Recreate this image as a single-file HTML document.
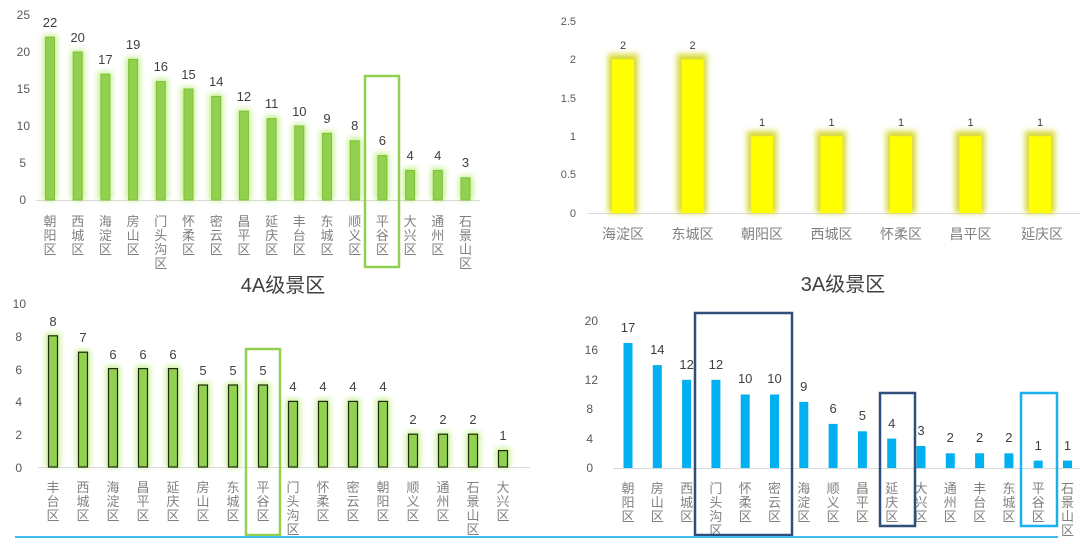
<!DOCTYPE html>
<html><head><meta charset="utf-8"><style>
body{margin:0;background:#fff}
svg{display:block;font-family:"Liberation Sans","Noto Sans CJK SC",sans-serif}
.t{font-size:12px;fill:#595959;text-anchor:end}
.v{font-size:13px;fill:#404040;text-anchor:middle}
.c{font-size:13px;fill:#808080;text-anchor:middle}
.ti{font-size:20px;fill:#404040;text-anchor:middle}
</style></head><body>
<svg width="1080" height="544" viewBox="0 0 1080 544">
<defs>
<filter id="gg" x="-100%" y="-20%" width="300%" height="140%"><feGaussianBlur stdDeviation="3"/></filter>
</defs>
<!-- Chart 1 -->
<g class="t"><text x="30" y="19">25</text><text x="30" y="56">20</text><text x="30" y="93">15</text><text x="30" y="130">10</text><text x="26" y="167">5</text><text x="26" y="204">0</text></g>
<line x1="36" y1="200.5" x2="480" y2="200.5" stroke="#d9d9d9"/>
<g fill="#c6ef8c" filter="url(#gg)">
<rect x="43" y="35" width="14" height="165"/><rect x="71" y="50" width="14" height="150"/><rect x="98" y="72" width="14" height="128"/><rect x="126" y="57" width="14" height="143"/><rect x="154" y="79" width="14" height="121"/><rect x="181" y="87" width="14" height="113"/><rect x="209" y="94" width="14" height="106"/><rect x="237" y="109" width="14" height="91"/><rect x="265" y="116" width="14" height="84"/><rect x="292" y="124" width="14" height="76"/><rect x="320" y="131" width="14" height="69"/><rect x="348" y="138" width="14" height="62"/><rect x="375" y="153" width="14" height="47"/><rect x="403" y="168" width="14" height="32"/><rect x="431" y="168" width="14" height="32"/><rect x="459" y="176" width="14" height="24"/>
</g>
<g fill="#92d050" stroke="#7fbf3a" stroke-width="1">
<rect x="45.5" y="37.2" width="9" height="162.8"/><rect x="73.2" y="52" width="9" height="148"/><rect x="100.9" y="74.2" width="9" height="125.8"/><rect x="128.6" y="59.4" width="9" height="140.6"/><rect x="156.3" y="81.6" width="9" height="118.4"/><rect x="184" y="89" width="9" height="111"/><rect x="211.7" y="96.4" width="9" height="103.6"/><rect x="239.4" y="111.2" width="9" height="88.8"/><rect x="267.1" y="118.6" width="9" height="81.4"/><rect x="294.8" y="126" width="9" height="74"/><rect x="322.5" y="133.4" width="9" height="66.6"/><rect x="350.2" y="140.8" width="9" height="59.2"/><rect x="377.9" y="155.6" width="9" height="44.4"/><rect x="405.6" y="170.4" width="9" height="29.6"/><rect x="433.3" y="170.4" width="9" height="29.6"/><rect x="461" y="177.8" width="9" height="22.2"/>
</g>
<g class="v">
<text x="50" y="27">22</text><text x="77.7" y="42">20</text><text x="105.4" y="64">17</text><text x="133.1" y="49">19</text><text x="160.8" y="71">16</text><text x="188.5" y="79">15</text><text x="216.2" y="86">14</text><text x="243.9" y="101">12</text><text x="271.6" y="108">11</text><text x="299.3" y="116">10</text><text x="327" y="123">9</text><text x="354.7" y="130">8</text><text x="382.4" y="145">6</text><text x="410.1" y="160">4</text><text x="437.8" y="160">4</text><text x="465.5" y="167">3</text>
</g>
<g class="c">
<text x="50" y="226"><tspan x="50">朝</tspan><tspan x="50" dy="14">阳</tspan><tspan x="50" dy="14">区</tspan></text>
<text x="77.7" y="226"><tspan x="77.7">西</tspan><tspan x="77.7" dy="14">城</tspan><tspan x="77.7" dy="14">区</tspan></text>
<text x="105.4" y="226"><tspan x="105.4">海</tspan><tspan x="105.4" dy="14">淀</tspan><tspan x="105.4" dy="14">区</tspan></text>
<text x="133.1" y="226"><tspan x="133.1">房</tspan><tspan x="133.1" dy="14">山</tspan><tspan x="133.1" dy="14">区</tspan></text>
<text x="160.8" y="226"><tspan x="160.8">门</tspan><tspan x="160.8" dy="14">头</tspan><tspan x="160.8" dy="14">沟</tspan><tspan x="160.8" dy="14">区</tspan></text>
<text x="188.5" y="226"><tspan x="188.5">怀</tspan><tspan x="188.5" dy="14">柔</tspan><tspan x="188.5" dy="14">区</tspan></text>
<text x="216.2" y="226"><tspan x="216.2">密</tspan><tspan x="216.2" dy="14">云</tspan><tspan x="216.2" dy="14">区</tspan></text>
<text x="243.9" y="226"><tspan x="243.9">昌</tspan><tspan x="243.9" dy="14">平</tspan><tspan x="243.9" dy="14">区</tspan></text>
<text x="271.6" y="226"><tspan x="271.6">延</tspan><tspan x="271.6" dy="14">庆</tspan><tspan x="271.6" dy="14">区</tspan></text>
<text x="299.3" y="226"><tspan x="299.3">丰</tspan><tspan x="299.3" dy="14">台</tspan><tspan x="299.3" dy="14">区</tspan></text>
<text x="327" y="226"><tspan x="327">东</tspan><tspan x="327" dy="14">城</tspan><tspan x="327" dy="14">区</tspan></text>
<text x="354.7" y="226"><tspan x="354.7">顺</tspan><tspan x="354.7" dy="14">义</tspan><tspan x="354.7" dy="14">区</tspan></text>
<text x="382.4" y="226"><tspan x="382.4">平</tspan><tspan x="382.4" dy="14">谷</tspan><tspan x="382.4" dy="14">区</tspan></text>
<text x="410.1" y="226"><tspan x="410.1">大</tspan><tspan x="410.1" dy="14">兴</tspan><tspan x="410.1" dy="14">区</tspan></text>
<text x="437.8" y="226"><tspan x="437.8">通</tspan><tspan x="437.8" dy="14">州</tspan><tspan x="437.8" dy="14">区</tspan></text>
<text x="465.5" y="226"><tspan x="465.5">石</tspan><tspan x="465.5" dy="14">景</tspan><tspan x="465.5" dy="14">山</tspan><tspan x="465.5" dy="14">区</tspan></text>
</g>
<rect x="365" y="76" width="34" height="191" fill="none" stroke="#92d050" stroke-width="2.5"/>
<text class="ti" x="283" y="292">4A级景区</text>

<!-- Chart 2 -->
<g class="t" style="font-size:11px"><text x="576" y="25">2.5</text><text x="576" y="63">2</text><text x="576" y="102">1.5</text><text x="576" y="140">1</text><text x="576" y="178">0.5</text><text x="576" y="217">0</text></g>
<line x1="588" y1="213.5" x2="1080" y2="213.5" stroke="#d9d9d9"/>
<g fill="#d8d838" filter="url(#gg)">
<rect x="608" y="54" width="30" height="159"/><rect x="677" y="54" width="30" height="159"/><rect x="747" y="131" width="30" height="82"/><rect x="816" y="131" width="30" height="82"/><rect x="886" y="131" width="30" height="82"/><rect x="955" y="131" width="30" height="82"/><rect x="1025" y="131" width="30" height="82"/>
</g>
<g fill="#ffff00">
<rect x="612" y="59.4" width="22" height="153.6"/><rect x="681.5" y="59.4" width="22" height="153.6"/><rect x="751" y="136.2" width="22" height="76.8"/><rect x="820.5" y="136.2" width="22" height="76.8"/><rect x="890" y="136.2" width="22" height="76.8"/><rect x="959.5" y="136.2" width="22" height="76.8"/><rect x="1029" y="136.2" width="22" height="76.8"/>
</g>
<g class="v" style="font-size:11px">
<text x="623" y="49">2</text><text x="692.5" y="49">2</text><text x="762" y="126">1</text><text x="831.5" y="126">1</text><text x="901" y="126">1</text><text x="970.5" y="126">1</text><text x="1040" y="126">1</text>
</g>
<g class="c" style="font-size:14px">
<text x="623" y="239">海淀区</text><text x="692.5" y="239">东城区</text><text x="762" y="239">朝阳区</text><text x="831.5" y="239">西城区</text><text x="901" y="239">怀柔区</text><text x="970.5" y="239">昌平区</text><text x="1042" y="239">延庆区</text>
</g>
<text class="ti" x="843" y="291">3A级景区</text>

<!-- Chart 3 -->
<g class="t"><text x="26" y="308">10</text><text x="22" y="341">8</text><text x="22" y="374">6</text><text x="22" y="406">4</text><text x="22" y="439">2</text><text x="22" y="472">0</text></g>
<line x1="38" y1="467.5" x2="530" y2="467.5" stroke="#d9d9d9"/>
<g fill="#c6ef8c" filter="url(#gg)">
<rect x="46" y="333" width="14" height="134"/><rect x="76" y="350" width="14" height="117"/><rect x="106" y="366" width="14" height="101"/><rect x="136" y="366" width="14" height="101"/><rect x="166" y="366" width="14" height="101"/><rect x="196" y="383" width="14" height="84"/><rect x="226" y="383" width="14" height="84"/><rect x="256" y="383" width="14" height="84"/><rect x="286" y="399" width="14" height="68"/><rect x="316" y="399" width="14" height="68"/><rect x="346" y="399" width="14" height="68"/><rect x="376" y="399" width="14" height="68"/><rect x="406" y="432" width="14" height="35"/><rect x="436" y="432" width="14" height="35"/><rect x="466" y="432" width="14" height="35"/><rect x="496" y="448" width="14" height="19"/>
</g>
<g fill="#92d050" stroke="#1e2a10" stroke-width="1.2">
<rect x="48.5" y="335.8" width="9" height="131.2"/><rect x="78.5" y="352.2" width="9" height="114.8"/><rect x="108.5" y="368.6" width="9" height="98.4"/><rect x="138.5" y="368.6" width="9" height="98.4"/><rect x="168.5" y="368.6" width="9" height="98.4"/><rect x="198.5" y="385" width="9" height="82"/><rect x="228.5" y="385" width="9" height="82"/><rect x="258.5" y="385" width="9" height="82"/><rect x="288.5" y="401.4" width="9" height="65.6"/><rect x="318.5" y="401.4" width="9" height="65.6"/><rect x="348.5" y="401.4" width="9" height="65.6"/><rect x="378.5" y="401.4" width="9" height="65.6"/><rect x="408.5" y="434.2" width="9" height="32.8"/><rect x="438.5" y="434.2" width="9" height="32.8"/><rect x="468.5" y="434.2" width="9" height="32.8"/><rect x="498.5" y="450.6" width="9" height="16.4"/>
</g>
<g class="v">
<text x="53" y="326">8</text><text x="83" y="342">7</text><text x="113" y="359">6</text><text x="143" y="359">6</text><text x="173" y="359">6</text><text x="203" y="375">5</text><text x="233" y="375">5</text><text x="263" y="375">5</text><text x="293" y="391">4</text><text x="323" y="391">4</text><text x="353" y="391">4</text><text x="383" y="391">4</text><text x="413" y="424">2</text><text x="443" y="424">2</text><text x="473" y="424">2</text><text x="503" y="440">1</text>
</g>
<g class="c">
<text y="492"><tspan x="53">丰</tspan><tspan x="53" dy="14">台</tspan><tspan x="53" dy="14">区</tspan></text>
<text y="492"><tspan x="83">西</tspan><tspan x="83" dy="14">城</tspan><tspan x="83" dy="14">区</tspan></text>
<text y="492"><tspan x="113">海</tspan><tspan x="113" dy="14">淀</tspan><tspan x="113" dy="14">区</tspan></text>
<text y="492"><tspan x="143">昌</tspan><tspan x="143" dy="14">平</tspan><tspan x="143" dy="14">区</tspan></text>
<text y="492"><tspan x="173">延</tspan><tspan x="173" dy="14">庆</tspan><tspan x="173" dy="14">区</tspan></text>
<text y="492"><tspan x="203">房</tspan><tspan x="203" dy="14">山</tspan><tspan x="203" dy="14">区</tspan></text>
<text y="492"><tspan x="233">东</tspan><tspan x="233" dy="14">城</tspan><tspan x="233" dy="14">区</tspan></text>
<text y="492"><tspan x="263">平</tspan><tspan x="263" dy="14">谷</tspan><tspan x="263" dy="14">区</tspan></text>
<text y="492"><tspan x="293">门</tspan><tspan x="293" dy="14">头</tspan><tspan x="293" dy="14">沟</tspan><tspan x="293" dy="14">区</tspan></text>
<text y="492"><tspan x="323">怀</tspan><tspan x="323" dy="14">柔</tspan><tspan x="323" dy="14">区</tspan></text>
<text y="492"><tspan x="353">密</tspan><tspan x="353" dy="14">云</tspan><tspan x="353" dy="14">区</tspan></text>
<text y="492"><tspan x="383">朝</tspan><tspan x="383" dy="14">阳</tspan><tspan x="383" dy="14">区</tspan></text>
<text y="492"><tspan x="413">顺</tspan><tspan x="413" dy="14">义</tspan><tspan x="413" dy="14">区</tspan></text>
<text y="492"><tspan x="443">通</tspan><tspan x="443" dy="14">州</tspan><tspan x="443" dy="14">区</tspan></text>
<text y="492"><tspan x="473">石</tspan><tspan x="473" dy="14">景</tspan><tspan x="473" dy="14">山</tspan><tspan x="473" dy="14">区</tspan></text>
<text y="492"><tspan x="503">大</tspan><tspan x="503" dy="14">兴</tspan><tspan x="503" dy="14">区</tspan></text>
</g>
<rect x="246" y="349" width="34" height="186" fill="none" stroke="#92d050" stroke-width="2.5"/>

<!-- Chart 4 -->
<g class="t"><text x="598" y="325">20</text><text x="598" y="354">16</text><text x="598" y="384">12</text><text x="593" y="413">8</text><text x="593" y="443">4</text><text x="593" y="472">0</text></g>
<line x1="613" y1="468.5" x2="1080" y2="468.5" stroke="#d9d9d9"/>
<g fill="#00b0f0">
<rect x="623.5" y="343" width="9" height="125"/><rect x="652.8" y="365.1" width="9" height="102.9"/><rect x="682.1" y="379.8" width="9" height="88.2"/><rect x="711.4" y="379.8" width="9" height="88.2"/><rect x="740.7" y="394.5" width="9" height="73.5"/><rect x="770" y="394.5" width="9" height="73.5"/><rect x="799.3" y="401.9" width="9" height="66.1"/><rect x="828.6" y="423.9" width="9" height="44.1"/><rect x="857.9" y="431.3" width="9" height="36.7"/><rect x="887.2" y="438.6" width="9" height="29.4"/><rect x="916.5" y="446" width="9" height="22"/><rect x="945.8" y="453.3" width="9" height="14.7"/><rect x="975.1" y="453.3" width="9" height="14.7"/><rect x="1004.4" y="453.3" width="9" height="14.7"/><rect x="1033.7" y="460.6" width="9" height="7.4"/><rect x="1063" y="460.6" width="9" height="7.4"/>
</g>
<g class="v">
<text x="628" y="332">17</text><text x="657.3" y="354">14</text><text x="686.6" y="369">12</text><text x="715.9" y="369">12</text><text x="745.2" y="383">10</text><text x="774.5" y="383">10</text><text x="803.8" y="391">9</text><text x="833.1" y="413">6</text><text x="862.4" y="420">5</text><text x="891.7" y="428">4</text><text x="921" y="435">3</text><text x="950.3" y="442">2</text><text x="979.6" y="442">2</text><text x="1008.9" y="442">2</text><text x="1038.2" y="450">1</text><text x="1067.5" y="450">1</text>
</g>
<g class="c">
<text y="493"><tspan x="628">朝</tspan><tspan x="628" dy="14">阳</tspan><tspan x="628" dy="14">区</tspan></text>
<text y="493"><tspan x="657.3">房</tspan><tspan x="657.3" dy="14">山</tspan><tspan x="657.3" dy="14">区</tspan></text>
<text y="493"><tspan x="686.6">西</tspan><tspan x="686.6" dy="14">城</tspan><tspan x="686.6" dy="14">区</tspan></text>
<text y="493"><tspan x="715.9">门</tspan><tspan x="715.9" dy="14">头</tspan><tspan x="715.9" dy="14">沟</tspan><tspan x="715.9" dy="14">区</tspan></text>
<text y="493"><tspan x="745.2">怀</tspan><tspan x="745.2" dy="14">柔</tspan><tspan x="745.2" dy="14">区</tspan></text>
<text y="493"><tspan x="774.5">密</tspan><tspan x="774.5" dy="14">云</tspan><tspan x="774.5" dy="14">区</tspan></text>
<text y="493"><tspan x="803.8">海</tspan><tspan x="803.8" dy="14">淀</tspan><tspan x="803.8" dy="14">区</tspan></text>
<text y="493"><tspan x="833.1">顺</tspan><tspan x="833.1" dy="14">义</tspan><tspan x="833.1" dy="14">区</tspan></text>
<text y="493"><tspan x="862.4">昌</tspan><tspan x="862.4" dy="14">平</tspan><tspan x="862.4" dy="14">区</tspan></text>
<text y="493"><tspan x="891.7">延</tspan><tspan x="891.7" dy="14">庆</tspan><tspan x="891.7" dy="14">区</tspan></text>
<text y="493"><tspan x="921">大</tspan><tspan x="921" dy="14">兴</tspan><tspan x="921" dy="14">区</tspan></text>
<text y="493"><tspan x="950.3">通</tspan><tspan x="950.3" dy="14">州</tspan><tspan x="950.3" dy="14">区</tspan></text>
<text y="493"><tspan x="979.6">丰</tspan><tspan x="979.6" dy="14">台</tspan><tspan x="979.6" dy="14">区</tspan></text>
<text y="493"><tspan x="1008.9">东</tspan><tspan x="1008.9" dy="14">城</tspan><tspan x="1008.9" dy="14">区</tspan></text>
<text y="493"><tspan x="1038.2">平</tspan><tspan x="1038.2" dy="14">谷</tspan><tspan x="1038.2" dy="14">区</tspan></text>
<text y="493"><tspan x="1067.5">石</tspan><tspan x="1067.5" dy="14">景</tspan><tspan x="1067.5" dy="14">山</tspan><tspan x="1067.5" dy="14">区</tspan></text>
</g>
<rect x="695" y="313" width="97" height="222" fill="none" stroke="#2f4f7a" stroke-width="2.5"/>
<rect x="880" y="393" width="35" height="133" fill="none" stroke="#2f4f7a" stroke-width="2.5"/>
<rect x="1021" y="393" width="36" height="133" fill="none" stroke="#1ab0ee" stroke-width="2.5"/>

<line x1="15" y1="537" x2="1058" y2="537" stroke="#3cbcf0" stroke-width="2"/>
</svg>
</body></html>
